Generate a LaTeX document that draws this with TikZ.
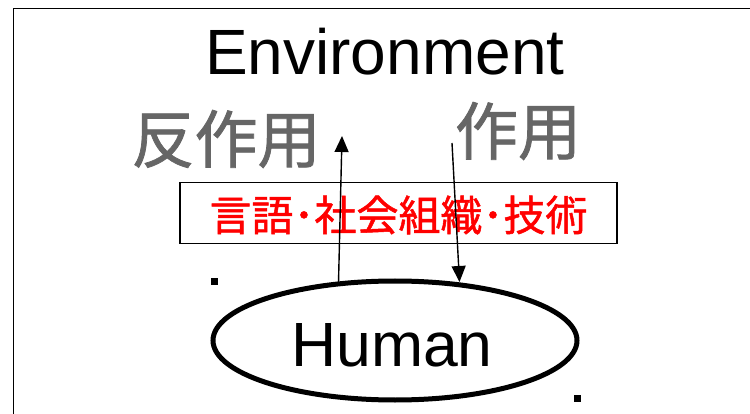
\documentclass[tikz,border=0pt]{standalone}
\usepackage{fontspec}
\setmainfont{Liberation Sans}
\newfontfamily\jpfont[FakeBold=1.2]{Noto Sans CJK JP}
\usetikzlibrary{arrows.meta,shapes.geometric}
\definecolor{labelgray}{HTML}{666666}
\definecolor{techred}{HTML}{FF0000}
\tikzset{
  bigtext/.style={inner sep=0pt, anchor=base west, font=\fontsize{64}{70}\selectfont},
  jplabel/.style={inner sep=0pt, text=labelgray, font=\jpfont\fontsize{63}{70}\selectfont},
  techbox/.style={draw=black, line width=1.3pt, minimum width=437pt, minimum height=61pt, inner sep=0pt},
  techlabel/.style={inner sep=0pt, text=techred, font=\jpfont\fontsize{42}{46}\selectfont},
  humanell/.style={draw=black, ellipse, line width=5pt, minimum width=364pt, minimum height=119pt, inner sep=0pt},
  flow/.style={draw=black, line width=1.4pt, -{Triangle[length=16pt,width=14pt]}},
  dotmark/.style={fill=black, draw=none, minimum size=7pt, inner sep=0pt, rectangle}
}
\begin{document}
\begin{tikzpicture}[x=1pt,y=-1pt]
\useasboundingbox (0,0) rectangle (750,414);
\draw[line width=1.5pt] (13.5,415) -- (13.5,8.5) -- (751,8.5);
\node[bigtext] (env) at (205,75) {Environment};
\node[jplabel] (hansayo) at (226,139) {反作用};
\node[jplabel] (sayo) at (518,131) {作用};
\node[techbox] (tech) at (398.5,213) {};
\node[techlabel] (techtext) at (398.5,215) {言語･社会組織･技術};
\node[humanell] (human) at (395,340.5) {};
\node[bigtext, font=\fontsize{62.5}{68}\selectfont] (humantext) at (291,366) {Human};
\coordinate (upstart) at (338.5,283);
\coordinate (uptip) at (342,136);
\coordinate (downstart) at (452,143);
\coordinate (downtip) at (459.5,282);
\draw[flow] (upstart) -- (uptip);
\draw[flow] (downstart) -- (downtip);
\node[dotmark] (dotA) at (214.5,281.5) {};
\node[dotmark] (dotB) at (577,398.5) {};
\end{tikzpicture}
\end{document}
